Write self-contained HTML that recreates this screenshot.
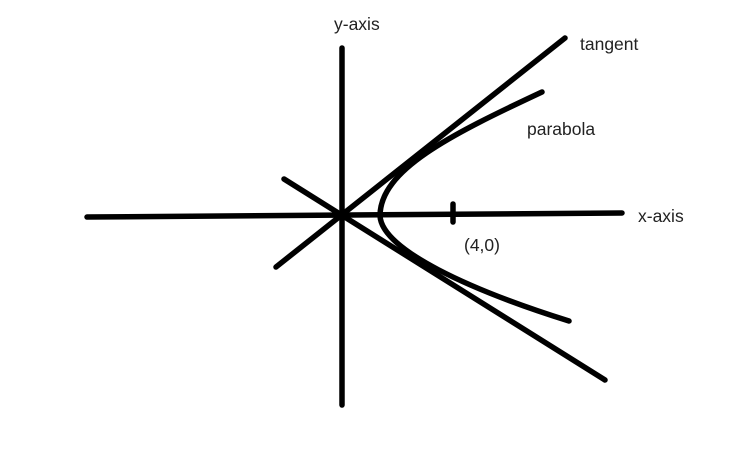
<!DOCTYPE html>
<html><head><style>
html,body{margin:0;padding:0;background:#fff;}
text{font-family:"Liberation Sans","DejaVu Sans",sans-serif;font-size:17.5px;fill:#222;}
</style></head><body>
<svg width="743" height="446" viewBox="0 0 743 446" xmlns="http://www.w3.org/2000/svg">
<g stroke="#000" stroke-width="5.5" stroke-linecap="round" fill="none">
<line x1="342" y1="48" x2="342" y2="405"/>
<line x1="87" y1="217" x2="622" y2="213"/>
<line x1="276" y1="267" x2="565" y2="38"/>
<line x1="284" y1="179" x2="605" y2="380"/>
<path d="M542,92 C 450,135 380,170 380,216 C 382,250 470,290 569,321"/>
<line x1="453" y1="204" x2="453" y2="222"/>
</g>
<text x="334" y="30">y-axis</text>
<text x="580" y="50">tangent</text>
<text x="527" y="135">parabola</text>
<text x="638" y="222">x-axis</text>
<text x="464" y="251">(4,0)</text>
</svg>
</body></html>
